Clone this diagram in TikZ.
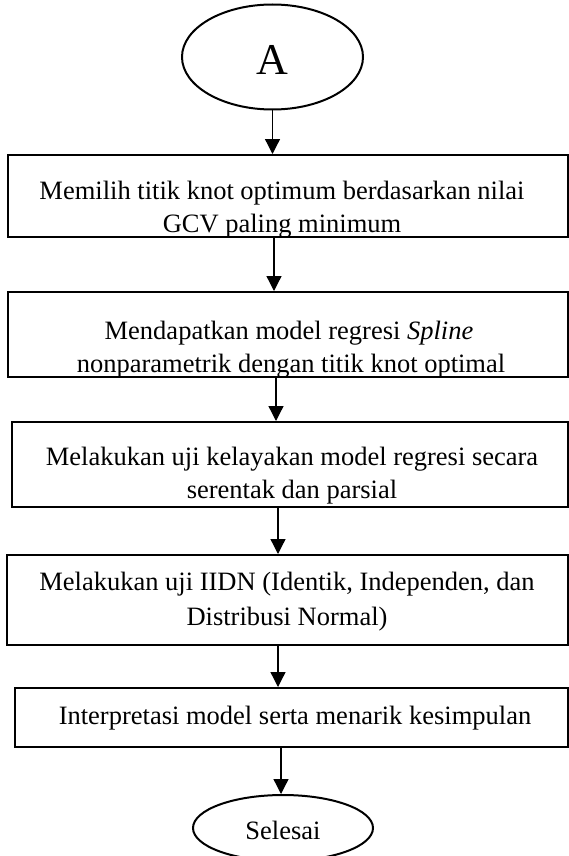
\documentclass[tikz,border=0pt]{standalone}
\usepackage{fontspec}
\setmainfont{Liberation Serif}
\usetikzlibrary{arrows.meta,shapes.geometric}
\begin{document}
\begin{tikzpicture}[x=1pt,y=-1pt,
  boxst/.style={draw,line width=2pt,inner sep=0pt},
  ovalst/.style={draw,ellipse,line width=2pt,inner sep=0pt},
  txt/.style={font=\fontsize{26.5}{30}\selectfont,inner sep=0pt,anchor=base},
  arr/.style={line width=1.3pt,-{Triangle[length=15pt,width=15pt]}}]
\useasboundingbox (0,0) rectangle (569,856);
% start oval
\node[ovalst,minimum width=181pt,minimum height=105pt] (A) at (272.5,57) {};
\node[font=\fontsize{44}{44}\selectfont,inner sep=0pt,anchor=base] (tA) at (272.5,75) {A};
% box 1
\node[boxst,minimum width=560pt,minimum height=82pt] (b1) at (288,196) {};
\begin{scope}
\clip (b1.south west) rectangle (b1.north east);
\node[txt] (t1a) at (282,199) {Memilih titik knot optimum berdasarkan nilai};
\node[txt] (t1b) at (282,232) {GCV paling minimum};
\end{scope}
% box 2
\node[boxst,minimum width=560pt,minimum height=85pt] (b2) at (288,334.5) {};
\begin{scope}
\clip (b2.south west) rectangle (b2.north east);
\node[txt] (t2a) at (289,339) {Mendapatkan model regresi \textit{Spline}};
\node[txt] (t2b) at (291,372) {nonparametrik dengan titik knot optimal};
\end{scope}
% box 3
\node[boxst,minimum width=556pt,minimum height=85pt] (b3) at (290,464.5) {};
\begin{scope}
\clip (b3.south west) rectangle (b3.north east);
\node[txt] (t3a) at (292,465) {Melakukan uji kelayakan model regresi secara};
\node[txt] (t3b) at (292,498) {serentak dan parsial};
\end{scope}
% box 4
\node[boxst,minimum width=561pt,minimum height=90pt] (b4) at (287.5,600) {};
\node[txt] (t4a) at (287,590) {Melakukan uji IIDN (Identik, Independen, dan};
\node[txt] (t4b) at (287,625) {Distribusi Normal)};
% box 5
\node[boxst,minimum width=553pt,minimum height=59pt] (b5) at (291.5,717.5) {};
\node[txt] (t5) at (295,724) {Interpretasi model serta menarik kesimpulan};
% end oval
\node[ovalst,minimum width=180pt,minimum height=66pt] (S) at (283,828) {};
\node[txt] (tS) at (283,839) {Selesai};
% connectors
\draw[arr] (A.south) -- (A.south |- b1.north);
\draw[arr] ([xshift=-14pt]b1.south) -- ([xshift=-14pt]b1.south |- b2.north);
\draw[arr] ([xshift=-12pt]b2.south) -- ([xshift=-12pt]b2.south |- b3.north);
\draw[arr] ([xshift=-12pt]b3.south) -- ([xshift=-12pt]b3.south |- b4.north);
\draw[arr] ([xshift=-9.5pt]b4.south) -- ([xshift=-9.5pt]b4.south |- b5.north);
\draw[arr] ([xshift=-10.5pt]b5.south) -- ([xshift=-10.5pt]b5.south |- S.north);
\end{tikzpicture}
\end{document}
